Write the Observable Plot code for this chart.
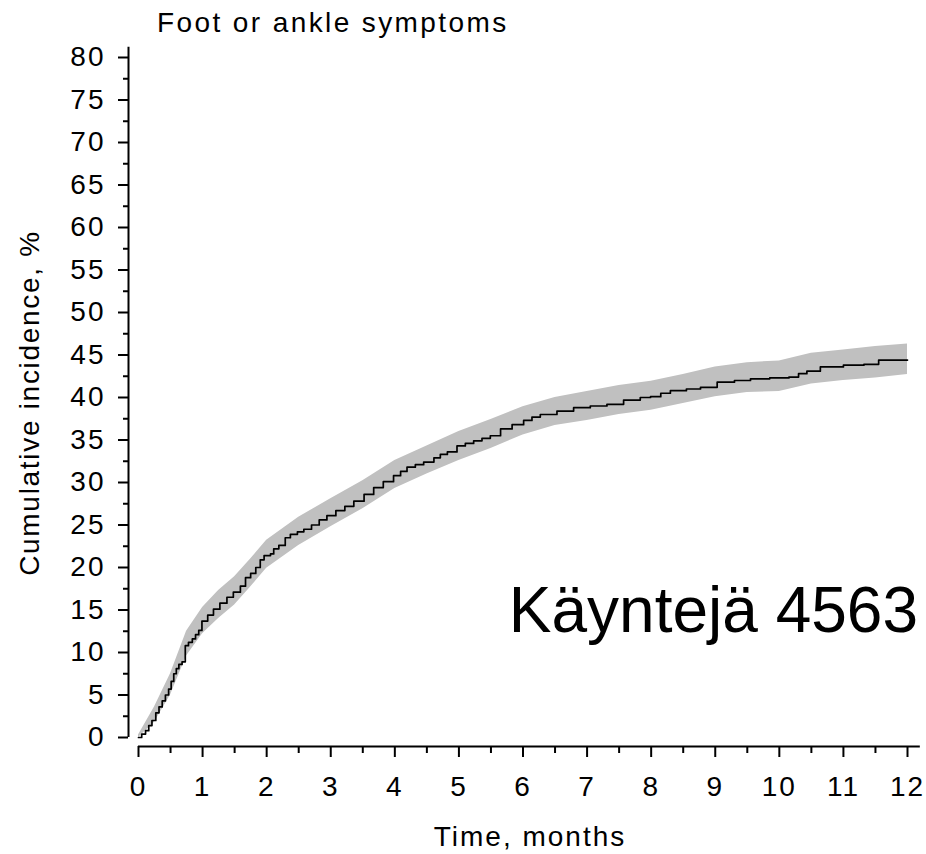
<!DOCTYPE html>
<html>
<head>
<meta charset="utf-8">
<script src="https://cdn.jsdelivr.net/npm/d3@7"></script>
<script src="https://cdn.jsdelivr.net/npm/@observablehq/plot@0.6"></script>
<style>
  html, body { margin: 0; padding: 0; background: #fff; overflow: hidden; }
  svg { display: block; }
</style>
</head>
<body>
<div id="chart"></div>
<script>
// Cumulative incidence
const months = [0, 0.05, 0.11, 0.16, 0.21, 0.27, 0.32, 0.37, 0.42, 0.47, 0.51, 0.55, 0.59, 0.63, 0.68, 0.73, 0.78, 0.84, 0.89, 0.94, 0.99,
  1.08, 1.17, 1.27, 1.38, 1.48, 1.59, 1.67, 1.75, 1.83, 1.90, 1.96, 2.06, 2.11, 2.19, 2.29, 2.37, 2.48, 2.58, 2.70, 2.82, 2.94,
  3.08, 3.22, 3.36, 3.52, 3.67, 3.82, 3.98, 4.09, 4.19, 4.32, 4.45, 4.61, 4.71, 4.82, 4.97, 5.10, 5.23, 5.36, 5.49, 5.65, 5.83,
  6.01, 6.14, 6.27, 6.53, 6.79, 7.05, 7.31, 7.57, 7.83, 7.99, 8.15, 8.30, 8.55, 8.77, 9.03, 9.30, 9.55, 9.85, 10.15, 10.30,
  10.43, 10.64, 11.00, 11.32, 11.55, 12.00];
const incidence = [0, 0.4, 0.8, 1.4, 2.0, 2.9, 3.6, 4.3, 5.0, 5.7, 6.6, 7.5, 8.1, 8.6, 8.9, 10.8, 11.2, 11.6, 12.1, 12.6, 13.7,
  14.4, 15.1, 15.8, 16.5, 17.1, 17.8, 18.8, 19.3, 20.0, 20.9, 21.4, 21.6, 22.2, 22.6, 23.5, 23.9, 24.2, 24.5, 25.0, 25.6, 26.1,
  26.7, 27.2, 27.8, 28.6, 29.4, 30.1, 30.8, 31.3, 31.8, 32.1, 32.4, 32.9, 33.3, 33.6, 34.3, 34.6, 34.9, 35.2, 35.5, 36.3, 36.8,
  37.3, 37.7, 38.0, 38.4, 38.8, 39.0, 39.2, 39.7, 40.0, 40.1, 40.5, 40.8, 41.0, 41.2, 41.8, 42.0, 42.2, 42.3, 42.4, 42.8,
  43.1, 43.6, 43.8, 43.9, 44.4, 44.4];

// Confidence band
const bandMonths = [0, 0.25, 0.5, 0.75, 1, 1.25, 1.5, 1.75, 2, 2.5, 3, 3.5, 4, 4.5, 5, 5.5, 6, 6.5, 7, 7.5, 8, 8.5, 9, 9.5, 10, 10.5, 11, 11.5, 12];
const bandLow  = [0, 1.8, 5.0, 9.6, 12.2, 14.0, 15.6, 17.7, 19.9, 22.6, 24.8, 26.9, 29.3, 31.0, 32.6, 34.0, 35.6, 36.7, 37.3, 38.0, 38.5, 39.3, 40.1, 40.6, 40.7, 41.6, 42.0, 42.3, 42.7];
const bandHigh = [0.3, 3.6, 7.5, 12.5, 15.3, 17.3, 18.9, 21.0, 23.2, 25.9, 28.1, 30.2, 32.6, 34.3, 36.0, 37.4, 38.9, 40.0, 40.7, 41.4, 41.9, 42.7, 43.6, 44.1, 44.3, 45.2, 45.6, 46.0, 46.3];

const yTicks = d3.range(0, 81, 5);
const yMinorTicks = d3.range(2.5, 80, 5);
const xTicks = d3.range(0, 13, 1);
const xMinorTicks = d3.range(0.5, 12, 1);

const titleText = "Foot or ankle symptoms";
const xLabel = "Time, months";
const yLabel = "Cumulative incidence, %";
const note = "Käyntejä 4563";

const curve = months.map((m, i) => ({month: m, value: incidence[i]}));
const band = bandMonths.map((m, i) => ({month: m, low: bandLow[i], high: bandHigh[i]}));

const W = 926, H = 854;
const font = "'Liberation Sans', Arial, Helvetica, sans-serif";

const chart = Plot.plot({
  width: W,
  height: H,
  marginLeft: 138,
  marginRight: 19,
  marginTop: 57,
  marginBottom: 117,
  style: {fontFamily: font, fontSize: "28px", letterSpacing: "2px", color: "#000", background: "#fff"},
  x: {domain: [0, 12], axis: null, label: null},
  y: {domain: [0, 80], axis: null, label: null},
  marks: [
    Plot.areaY(band, {x: "month", y1: "low", y2: "high", fill: "#c0c0c0", curve: "linear"}),
    Plot.line(curve, {x: "month", y: "value", stroke: "#000", strokeWidth: 1.7, curve: "step-after"}),
    // y axis
    Plot.ruleX([0], {y1: 0, y2: 81.2, dx: -10, stroke: "#000", strokeWidth: 2}),
    Plot.axisY({ticks: yTicks, tickSize: 10, tickPadding: 13, dx: -10, strokeWidth: 2, fontSize: 28, label: null, tickFormat: d => String(d)}),
    Plot.axisY({ticks: yMinorTicks, tickSize: 5, dx: -10, strokeWidth: 2, text: null, label: null}),
    // x axis
    Plot.ruleY([0], {x1: 0, x2: 12.2, dy: 9, stroke: "#000", strokeWidth: 2}),
    Plot.axisX({ticks: xTicks, tickSize: 11, tickPadding: 19, dy: 9, strokeWidth: 2, fontSize: 28, label: null, tickFormat: d => String(d)}),
    Plot.axisX({ticks: xMinorTicks, tickSize: 7, dy: 9, strokeWidth: 2, text: null, label: null})
  ]
});

const svg = d3.select(chart);
svg.append("text")
  .attr("x", 157).attr("y", 32)
  .attr("text-anchor", "start")
  .attr("font-family", font).attr("font-size", 28).attr("letter-spacing", "2.4px")
  .attr("fill", "#000")
  .text(titleText);
svg.append("text")
  .attr("x", 530).attr("y", 846)
  .attr("text-anchor", "middle")
  .attr("font-family", font).attr("font-size", 28).attr("letter-spacing", "2px")
  .attr("fill", "#000")
  .text(xLabel);
svg.append("text")
  .attr("transform", "translate(39,403) rotate(-90)")
  .attr("text-anchor", "middle")
  .attr("font-family", font).attr("font-size", 28).attr("letter-spacing", "1.7px")
  .attr("fill", "#000")
  .text(yLabel);
svg.append("text")
  .attr("x", 918).attr("y", 632)
  .attr("text-anchor", "end")
  .attr("font-family", font).attr("font-size", 64).attr("letter-spacing", "0px")
  .attr("fill", "#000")
  .text(note);

document.getElementById("chart").appendChild(chart);
</script>
</body>
</html>
